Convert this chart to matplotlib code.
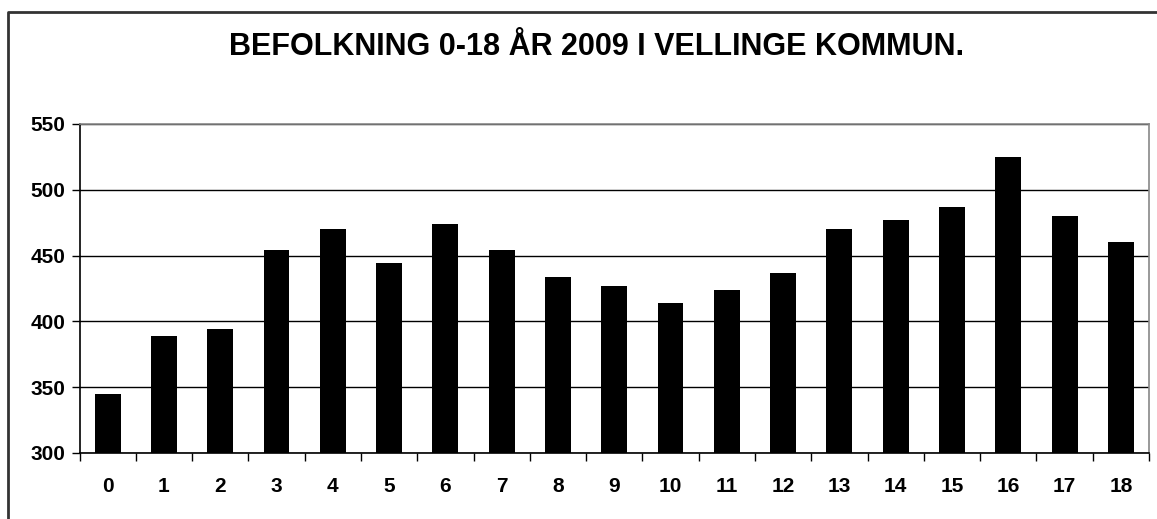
import numpy as np
import matplotlib.pyplot as plt
from matplotlib.lines import Line2D

plt.rcParams['font.family'] = ['Liberation Sans', 'DejaVu Sans']

alder = np.arange(0, 19)
antal = [345, 389, 394, 454, 470, 444, 474, 454, 434, 427, 414, 424, 437,
         470, 477, 487, 525, 480, 460]
titel = 'BEFOLKNING 0-18 ÅR 2009 I VELLINGE KOMMUN.'

fig = plt.figure(figsize=(11.57, 5.19), dpi=100)
ax = fig.add_axes([79.5/1157, 66/519, (1149-79.5)/1157, 329/519])

ax.bar(alder, antal, width=0.46, color='black', zorder=3)
ax.set_xlim(-0.5, 18.5)
ax.set_ylim(300, 550)
ax.set_yticks([300, 350, 400, 450, 500, 550])
ax.yaxis.grid(True, color='black', linewidth=1, zorder=0)

ax.set_xticks(alder)
ax.set_xticklabels([str(a) for a in alder])
ax.set_xticks(np.arange(-0.5, 19, 1), minor=True)
ax.tick_params(axis='x', which='major', length=0, pad=17, labelsize=15)
ax.tick_params(axis='x', which='minor', length=6, direction='out', width=1)
ax.tick_params(axis='y', length=6, direction='out', width=1, pad=4, labelsize=15)
for lab in ax.get_xticklabels() + ax.get_yticklabels():
    lab.set_fontweight('bold')

ax.spines['left'].set_color('black')
ax.spines['bottom'].set_color('black')
ax.spines['top'].set_color('#888888')
ax.spines['right'].set_color('#888888')
for s in ax.spines.values():
    s.set_linewidth(1.2)

fig.text(597/1157, 1-47/519, titel, ha='center', va='center',
         fontsize=22, fontweight='bold')

# ramen runt diagrammet
fig.add_artist(Line2D([8/1157, 8/1157, 1], [0, 1-12/519, 1-12/519],
                      transform=fig.transFigure, color='#333333', linewidth=2))

plt.savefig('out.png', dpi=100)
